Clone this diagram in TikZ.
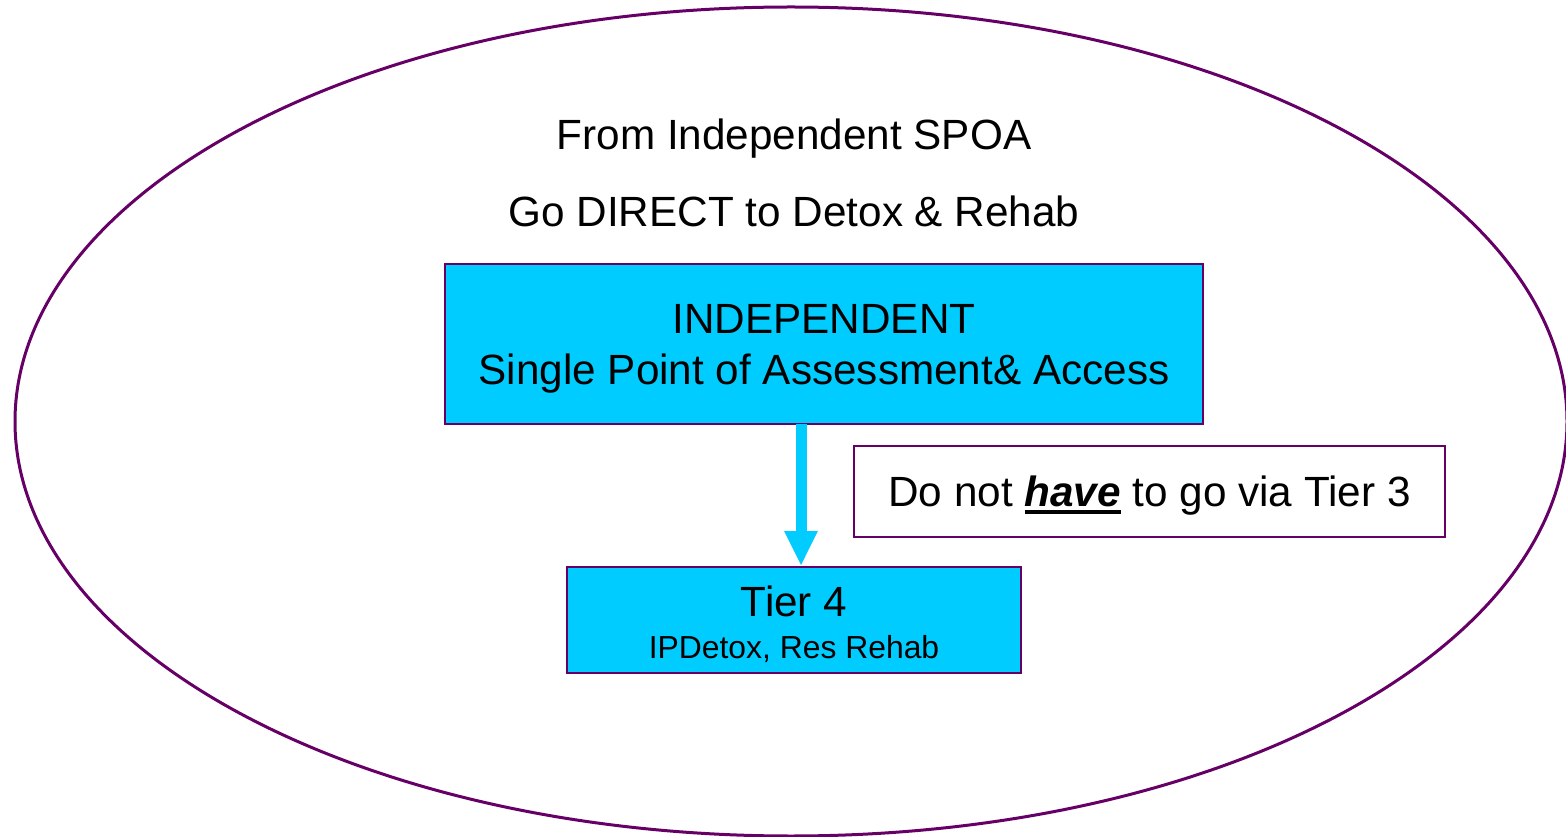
\documentclass[tikz,border=0pt]{standalone}
\usepackage{fontspec}
\setmainfont{Liberation Sans}
\usetikzlibrary{arrows.meta}
\definecolor{rim}{RGB}{102,0,102}
\definecolor{sky}{HTML}{00CCFF}
\newcommand{\bigtext}{\fontsize{31.7}{38.25}\selectfont}
\newcommand{\smalltext}{\fontsize{23.9}{30}\selectfont}
\newcommand{\thickul}[1]{\setbox0\hbox{#1}\rlap{\rule[-6pt]{\wd0}{3pt}}\box0\relax}

\begin{document}
\begin{tikzpicture}[x=0.75pt,y=0.75pt,yscale=-1,xscale=1,
  box/.style={draw=rim, line width=1.5pt, fill=sky, align=center, inner sep=0pt, font=\bigtext},
  note/.style={draw=rim, line width=1.5pt, fill=white, inner sep=0pt, font=\bigtext},
  flow/.style={draw=sky, line width=8.25pt, -{Triangle[width=23.25pt,length=26.25pt,fill=sky]}}]
\useasboundingbox (0,0) rectangle (1566,837);

%Outer ellipse
\draw [rim, line width=2.25pt] (791,421.5) ellipse [x radius=776, y radius=414.5];

% Text Node
\node (fromspoa) at (794,139) [font=\bigtext] {From Independent SPOA};
% Text Node
\node (godirect) at (794,211) [font=\bigtext] {Go DIRECT to Detox \& Rehab};

% Boxes
\node (spoa) at (824,344) [box, text height=67.5pt, minimum width=568.5pt, minimum height=120pt] {INDEPENDENT\\Single Point of Assessment\& Access};
\node (tierfour) at (794,620) [box, text height=61pt, minimum width=340.5pt, minimum height=79.5pt] {Tier 4\\[-7pt]{\smalltext IPDetox, Res Rehab}};
\node (viatier) at (1149.5,491.5) [note, text height=28.5pt, minimum width=443.25pt, minimum height=68.25pt] {Do not \thickul{\textbf{\textit{have}}} to go via Tier 3};

%Straight Lines
\coordinate (drop) at (801,424);
\draw [flow] (drop) -- (drop |- tierfour.north);

\end{tikzpicture}
\end{document}
